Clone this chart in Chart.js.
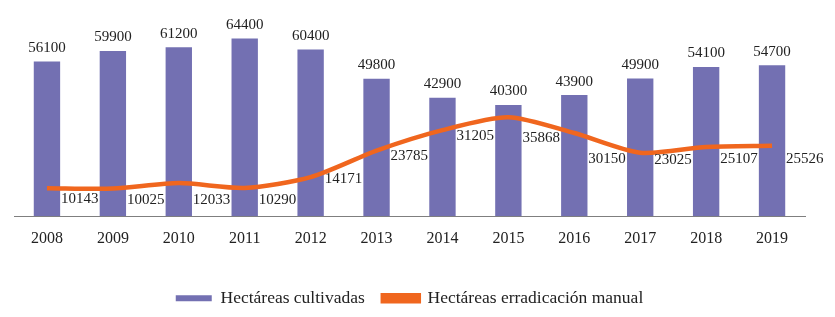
<!DOCTYPE html>
<html>
<head>
<meta charset="utf-8">
<script src="https://cdn.jsdelivr.net/npm/chart.js@4"></script>
<style>
  html, body { margin: 0; padding: 0; background: #fff; }
  #wrap { width: 835px; height: 317px; }
</style>
</head>
<body>
<div id="wrap"><canvas id="c" width="835" height="317"></canvas></div>
<script>
var years = ['2008', '2009', '2010', '2011', '2012', '2013', '2014', '2015', '2016', '2017', '2018', '2019'];
var cultivadas = [56100, 59900, 61200, 64400, 60400, 49800, 42900, 40300, 43900, 49900, 54100, 54700];
var erradicacion = [10143, 10025, 12033, 10290, 14171, 23785, 31205, 35868, 30150, 23025, 25107, 25526];

// how far below each line point its label sits (px)
var lineLabelDrop = [11, 11, 17, 12, 2, 5, 6, 21, 26, 7, 12, 13];

var serif = '"Liberation Serif", "Times New Roman", serif';

var valueLabels = {
  id: 'valueLabels',
  afterDatasetsDraw: function (chart) {
    var ctx = chart.ctx;
    ctx.save();
    ctx.font = '15px ' + serif;
    ctx.fillStyle = '#222';

    var bars = chart.getDatasetMeta(1).data;
    ctx.textAlign = 'center';
    ctx.textBaseline = 'bottom';
    bars.forEach(function (bar, i) {
      ctx.fillText(String(cultivadas[i]), bar.x, bar.y - 6);
    });

    var pts = chart.getDatasetMeta(0).data;
    ctx.textAlign = 'left';
    ctx.textBaseline = 'middle';
    pts.forEach(function (p, i) {
      ctx.fillText(String(erradicacion[i]), p.x + 14, p.y + lineLabelDrop[i]);
    });
    ctx.restore();
  }
};

var chart = new Chart(document.getElementById('c'), {
  data: {
    labels: years,
    datasets: [
      {
        type: 'line',
        label: 'Hectáreas erradicación manual',
        data: erradicacion,
        borderColor: '#f0661e',
        backgroundColor: '#f0661e',
        borderWidth: 4.5,
        pointRadius: 0,
        tension: 0.25,
        order: 0
      },
      {
        type: 'bar',
        label: 'Hectáreas cultivadas',
        data: cultivadas,
        backgroundColor: '#7370b2',
        barPercentage: 0.8,
        categoryPercentage: 0.5,
        order: 1
      }
    ]
  },
  options: {
    responsive: false,
    animation: false,
    layout: { padding: { top: 23, left: 14, right: 30, bottom: 0 } },
    scales: {
      x: {
        grid: { display: false },
        border: { display: true, color: '#7f7f7f', width: 1 },
        ticks: { color: '#222', font: { family: serif, size: 16 }, padding: 5 },
        afterFit: function (scale) { scale.height += 18; }
      },
      y: {
        display: false,
        min: 0,
        max: 70000
      }
    },
    plugins: {
      tooltip: { enabled: false },
      legend: {
        position: 'bottom',
        reverse: true,
        labels: {
          color: '#222',
          font: { family: serif, size: 17.5 },
          boxWidth: 36,
          boxHeight: 6,
          padding: 18
        }
      }
    }
  },
  plugins: [valueLabels]
});
</script>
</body>
</html>
